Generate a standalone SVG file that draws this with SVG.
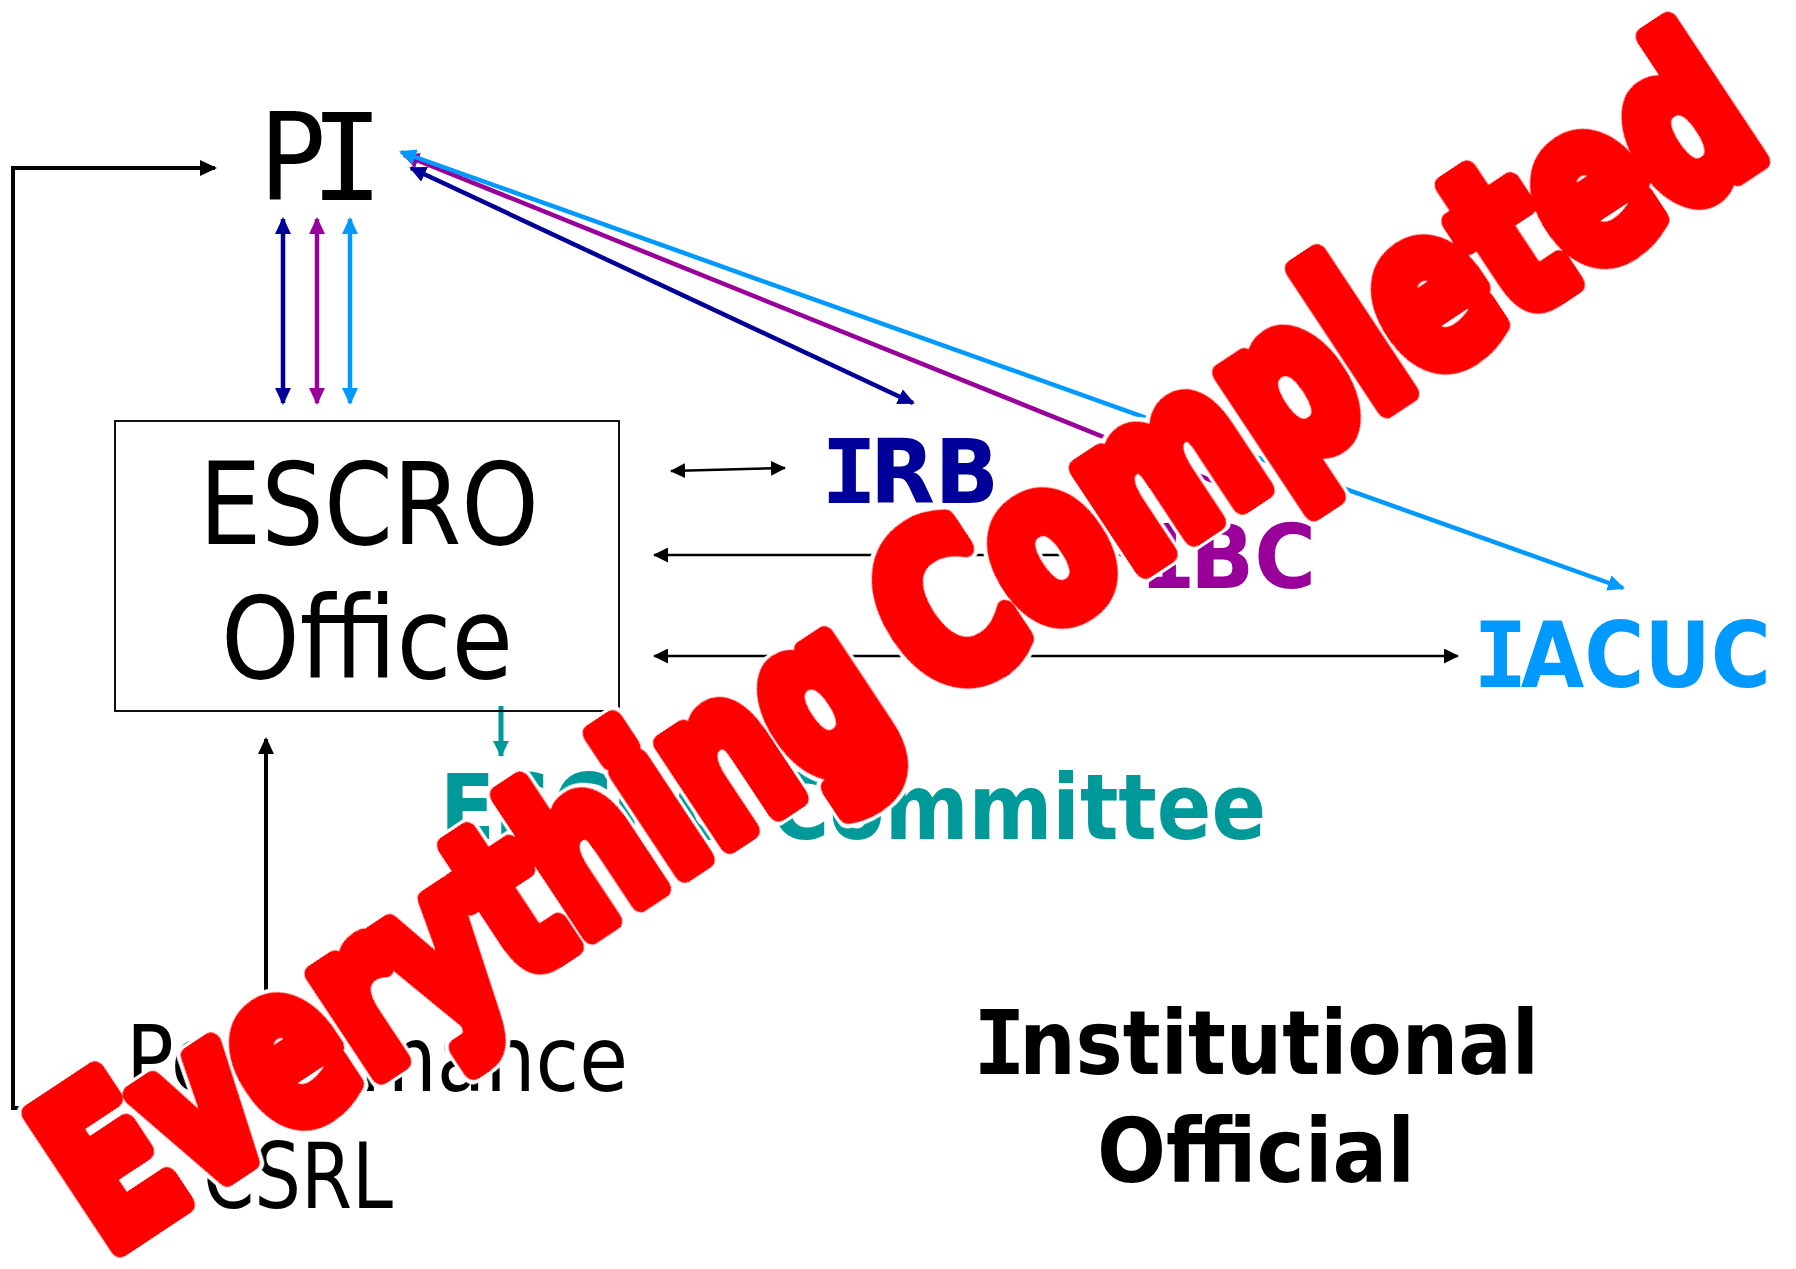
<svg xmlns="http://www.w3.org/2000/svg" width="1796" height="1269" viewBox="0 0 1796 1269">
  <style>
    .t { font-family: "DejaVu Sans Condensed", "DejaVu Sans", sans-serif; }
    .mono { font-family: "DejaVu Sans Mono", monospace; }
    .reg { font-weight: normal; fill: #000; }
    .b { font-weight: bold; }
    .navy { stroke: #000099; }
    .purple { stroke: #990099; }
    .sky { stroke: #0099FF; }
    .teal { stroke: #009999; }
    .blk { stroke: #000; }
    .conn { fill: none; }
    .stamp text { font-family: "DejaVu Sans Condensed", "DejaVu Sans", sans-serif; font-weight: bold; font-size: 217px; fill: #FF0000; stroke: #FF0000; stroke-width: 22; stroke-linejoin: round; }
  </style>
  <defs>
    <marker id="ah-black-lg" markerUnits="userSpaceOnUse" markerWidth="17" markerHeight="16" refX="15" refY="8" orient="auto-start-reverse">
      <path d="M0,0 L17,8 L0,16 z" fill="#000"/>
    </marker>
    <marker id="ah-black-sm" markerUnits="userSpaceOnUse" markerWidth="15" markerHeight="15" refX="14" refY="7.5" orient="auto-start-reverse">
      <path d="M0,0 L15,7.5 L0,15 z" fill="#000"/>
    </marker>
    <marker id="ah-navy" markerUnits="userSpaceOnUse" markerWidth="17" markerHeight="16" refX="15" refY="8" orient="auto-start-reverse">
      <path d="M0,0 L17,8 L0,16 z" fill="#000099"/>
    </marker>
    <marker id="ah-purple" markerUnits="userSpaceOnUse" markerWidth="17" markerHeight="16" refX="15" refY="8" orient="auto-start-reverse">
      <path d="M0,0 L17,8 L0,16 z" fill="#990099"/>
    </marker>
    <marker id="ah-sky" markerUnits="userSpaceOnUse" markerWidth="17" markerHeight="16" refX="15" refY="8" orient="auto-start-reverse">
      <path d="M0,0 L17,8 L0,16 z" fill="#0099FF"/>
    </marker>
    <marker id="ah-teal" markerUnits="userSpaceOnUse" markerWidth="16" markerHeight="16" refX="15" refY="8" orient="auto-start-reverse">
      <path d="M0,0 L16,8 L0,16 z" fill="#009999"/>
    </marker>
    <!-- thin white rim around the red stamp lettering -->
    <filter id="rim" x="-3%" y="-20%" width="106%" height="140%">
      <feMorphology in="SourceAlpha" operator="dilate" radius="2.5" result="grow"/>
      <feFlood flood-color="#ffffff" result="white"/>
      <feComposite in="white" in2="grow" operator="in" result="edge"/>
      <feMerge>
        <feMergeNode in="edge"/>
        <feMergeNode in="SourceGraphic"/>
      </feMerge>
    </filter>
  </defs>

  <rect width="1796" height="1269" fill="#ffffff"/>

  <!-- connectors -->
  <g id="connectors" class="conn">
    <!-- loop between Performance and PI -->
    <path class="blk" stroke-width="4" d="M118,1108 H13 V168 H215" marker-start="url(#ah-black-lg)" marker-end="url(#ah-black-lg)"/>
    <!-- PI <-> ESCRO Office -->
    <path class="navy" stroke-width="4.5" d="M283,219 V403" marker-start="url(#ah-navy)" marker-end="url(#ah-navy)"/>
    <path class="purple" stroke-width="4.5" d="M317,219 V403" marker-start="url(#ah-purple)" marker-end="url(#ah-purple)"/>
    <path class="sky" stroke-width="4.5" d="M350,219 V403" marker-start="url(#ah-sky)" marker-end="url(#ah-sky)"/>
    <!-- PI <-> IRB / IBC / IACUC -->
    <path class="navy" stroke-width="4.5" d="M411,168 L913,403" marker-start="url(#ah-navy)" marker-end="url(#ah-navy)"/>
    <path class="purple" stroke-width="4.5" d="M404,155 L1240,492" marker-start="url(#ah-purple)" marker-end="url(#ah-purple)"/>
    <path class="sky" stroke-width="4.5" d="M401,152 L1623,588" marker-start="url(#ah-sky)" marker-end="url(#ah-sky)"/>
    <!-- ESCRO Office <-> committees -->
    <path class="blk" stroke-width="2.5" d="M671,471 L785,468" marker-start="url(#ah-black-sm)" marker-end="url(#ah-black-sm)"/>
    <path class="blk" stroke-width="2.5" d="M654,555 H1140" marker-start="url(#ah-black-sm)" marker-end="url(#ah-black-sm)"/>
    <path class="blk" stroke-width="2.5" d="M654,656 H1458" marker-start="url(#ah-black-sm)" marker-end="url(#ah-black-sm)"/>
    <!-- ESCRO Office -> ESCRO Committee -->
    <path class="teal" stroke-width="5" d="M501,706 V756" marker-end="url(#ah-teal)"/>
    <!-- Performance -> ESCRO Office -->
    <path class="blk" stroke-width="4" d="M266,994 V739" marker-end="url(#ah-black-lg)"/>
  </g>

  <!-- nodes -->
  <g id="node-pi">
    <text class="t reg" x="259" y="200" font-size="122">P<tspan class="mono" dx="-15">I</tspan></text>
  </g>

  <g id="node-escro-office">
    <rect x="115" y="421" width="504" height="290" fill="none" stroke="#111" stroke-width="2"/>
    <text class="t reg" x="369" y="544" font-size="114" text-anchor="middle" textLength="340" lengthAdjust="spacingAndGlyphs">ESCRO</text>
    <text class="t reg" x="367" y="678" font-size="114" text-anchor="middle" textLength="292" lengthAdjust="spacingAndGlyphs">Office</text>
  </g>

  <g id="node-irb">
    <text class="t b" x="821" y="503" font-size="89" fill="#000099" textLength="178" lengthAdjust="spacingAndGlyphs"><tspan class="mono">I</tspan><tspan dx="-7">RB</tspan></text>
  </g>

  <g id="node-ibc">
    <text class="t b" x="1141" y="588" font-size="89" fill="#990099" textLength="175" lengthAdjust="spacingAndGlyphs"><tspan class="mono">I</tspan><tspan dx="-7">BC</tspan></text>
  </g>

  <g id="node-iacuc">
    <text class="t b" x="1473" y="687" font-size="90" fill="#0099FF" textLength="298" lengthAdjust="spacingAndGlyphs"><tspan class="mono">I</tspan><tspan dx="-7">ACUC</tspan></text>
  </g>

  <g id="node-escro-committee">
    <text class="t b" x="440" y="839" font-size="90" fill="#009999" textLength="826" lengthAdjust="spacingAndGlyphs">ESCRO Committee</text>
  </g>

  <g id="node-performance">
    <text class="t reg" x="126" y="1091" font-size="91" textLength="502" lengthAdjust="spacingAndGlyphs">Performance</text>
    <text class="t reg" x="203" y="1208" font-size="91" textLength="190" lengthAdjust="spacingAndGlyphs">CSRL</text>
  </g>

  <g id="node-institutional-official">
    <text class="t b" x="1256" y="1074" font-size="89" fill="#000" text-anchor="middle" textLength="566" lengthAdjust="spacingAndGlyphs"><tspan class="mono">I</tspan><tspan dx="-7">nstitutional</tspan></text>
    <text class="t b" x="1256" y="1182" font-size="89" fill="#000" text-anchor="middle" textLength="318" lengthAdjust="spacingAndGlyphs">Official</text>
  </g>

  <!-- diagonal red stamp across the chart -->
  <g id="stamp" class="stamp" transform="translate(115,1263) rotate(-33.5)">
    <g filter="url(#rim)">
      <text x="-3" y="-11" textLength="955" lengthAdjust="spacingAndGlyphs">Everything</text>
      <text x="993" y="-11" textLength="1002" lengthAdjust="spacingAndGlyphs">Completed</text>
    </g>
  </g>
</svg>
